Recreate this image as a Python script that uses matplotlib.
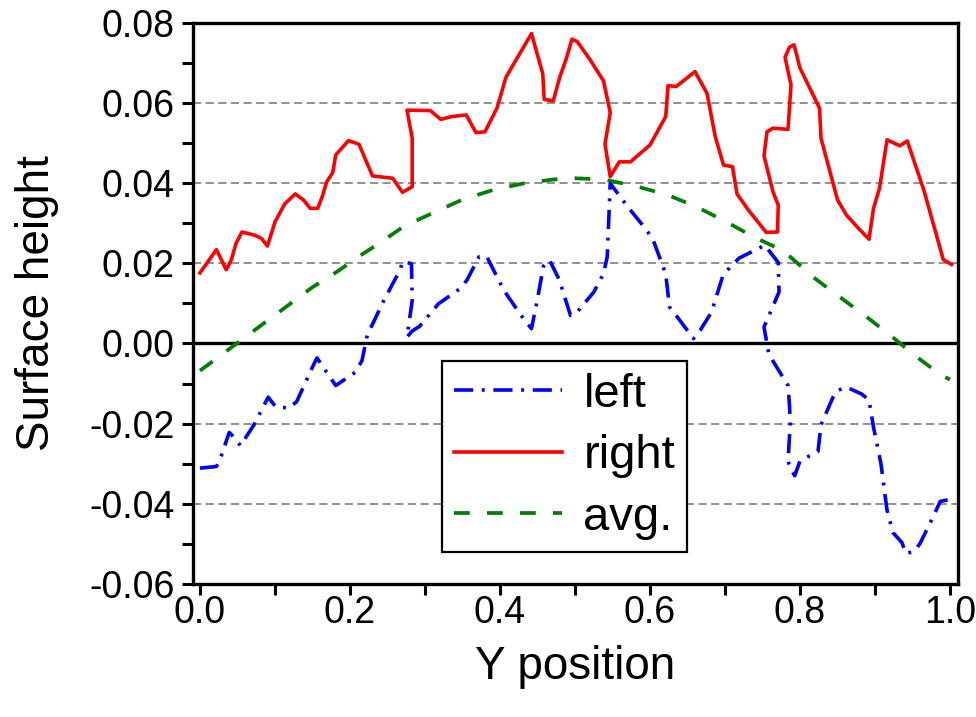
import matplotlib
matplotlib.use("Agg")
import matplotlib.pyplot as plt
from matplotlib.ticker import MultipleLocator, FormatStrFormatter

plt.rcParams["font.family"] = ["Liberation Sans", "DejaVu Sans"]
plt.rcParams["axes.unicode_minus"] = False

# surface profile on the right edge
right_x = [0.000, 0.022, 0.035, 0.042, 0.048, 0.056, 0.073, 0.082, 0.090, 0.100,
           0.113, 0.127, 0.138, 0.147, 0.157, 0.163, 0.169, 0.177, 0.181, 0.198,
           0.212, 0.222, 0.230, 0.257, 0.270, 0.283, 0.283, 0.276, 0.307, 0.321,
           0.336, 0.355, 0.368, 0.380, 0.396, 0.408, 0.422, 0.442, 0.457, 0.459,
           0.471, 0.480, 0.488, 0.496, 0.503, 0.520, 0.538, 0.547, 0.540, 0.547,
           0.559, 0.574, 0.600, 0.621, 0.624, 0.635, 0.660, 0.676, 0.687, 0.698,
           0.710, 0.716, 0.731, 0.755, 0.770, 0.771, 0.764, 0.752, 0.756, 0.764,
           0.784, 0.788, 0.780, 0.786, 0.792, 0.800, 0.826, 0.828, 0.850, 0.862,
           0.878, 0.892, 0.898, 0.906, 0.916, 0.933, 0.943, 0.965, 0.977, 0.991,
           1.002]
right_y = [0.0176, 0.0234, 0.0184, 0.0209, 0.0249, 0.0278, 0.0270, 0.0262, 0.0243, 0.0303,
           0.0348, 0.0373, 0.0358, 0.0337, 0.0337, 0.0366, 0.0403, 0.0426, 0.0470, 0.0506,
           0.0497, 0.0453, 0.0418, 0.0412, 0.0377, 0.0391, 0.0512, 0.0582, 0.0581, 0.0559,
           0.0566, 0.0570, 0.0526, 0.0528, 0.0587, 0.0664, 0.0709, 0.0773, 0.0673, 0.0609,
           0.0605, 0.0666, 0.0708, 0.0759, 0.0753, 0.0708, 0.0655, 0.0576, 0.0497, 0.0416,
           0.0453, 0.0453, 0.0495, 0.0566, 0.0643, 0.0641, 0.0678, 0.0624, 0.0516, 0.0445,
           0.0441, 0.0373, 0.0333, 0.0277, 0.0278, 0.0345, 0.0378, 0.0468, 0.0528, 0.0537,
           0.0534, 0.0645, 0.0714, 0.0739, 0.0745, 0.0687, 0.0587, 0.0512, 0.0358, 0.0320,
           0.0287, 0.0260, 0.0337, 0.0387, 0.0508, 0.0493, 0.0505, 0.0383, 0.0303, 0.0209,
           0.0197]

# surface profile on the left edge
left_x = [0.000, 0.022, 0.028, 0.039, 0.047, 0.054, 0.072, 0.091, 0.101, 0.119,
          0.129, 0.150, 0.156, 0.169, 0.181, 0.207, 0.216, 0.223, 0.244, 0.267,
          0.270, 0.282, 0.283, 0.276, 0.283, 0.293, 0.318, 0.347, 0.356, 0.372,
          0.382, 0.405, 0.424, 0.432, 0.442, 0.449, 0.458, 0.466, 0.479, 0.494,
          0.501, 0.525, 0.538, 0.543, 0.547, 0.572, 0.595, 0.604, 0.616, 0.621,
          0.626, 0.638, 0.658, 0.667, 0.682, 0.697, 0.707, 0.719, 0.753, 0.771,
          0.772, 0.752, 0.758, 0.764, 0.784, 0.786, 0.787, 0.784, 0.787, 0.793,
          0.800, 0.812, 0.824, 0.828, 0.844, 0.849, 0.862, 0.882, 0.892, 0.898,
          0.908, 0.916, 0.924, 0.936, 0.941, 0.952, 0.960, 0.976, 0.987, 1.000]
left_y = [-0.0311, -0.0307, -0.0283, -0.0222, -0.0237, -0.0255, -0.0203, -0.0134, -0.0158, -0.0161,
          -0.0145, -0.0059, -0.0036, -0.0072, -0.0105, -0.0072, -0.0043, 0.0020, 0.0103, 0.0184,
          0.0204, 0.0199, 0.0107, 0.0016, 0.0031, 0.0043, 0.0099, 0.0137, 0.0158, 0.0216,
          0.0218, 0.0133, 0.0081, 0.0060, 0.0037, 0.0101, 0.0193, 0.0208, 0.0159, 0.0070,
          0.0074, 0.0128, 0.0174, 0.0216, 0.0399, 0.0337, 0.0284, 0.0259, 0.0199, 0.0173,
          0.0091, 0.0062, 0.0012, 0.0033, 0.0078, 0.0168, 0.0191, 0.0213, 0.0245, 0.0202,
          0.0128, 0.0041, -0.0022, -0.0044, -0.0105, -0.0155, -0.0201, -0.0293, -0.0311, -0.0330,
          -0.0293, -0.0281, -0.0269, -0.0203, -0.0134, -0.0118, -0.0109, -0.0126, -0.0141, -0.0209,
          -0.0301, -0.0416, -0.0472, -0.0497, -0.0524, -0.0519, -0.0499, -0.0438, -0.0394, -0.0389]

# averaged profile
avg_x = [0.000, 0.047, 0.080, 0.116, 0.149, 0.182, 0.216, 0.240, 0.271, 0.311,
         0.349, 0.391, 0.431, 0.471, 0.500, 0.538, 0.564, 0.584, 0.624, 0.662,
         0.702, 0.738, 0.771, 0.787, 0.820, 0.853, 0.889, 0.922, 0.953, 0.989, 1.000]
avg_y = [-0.0068, -0.0003, 0.0043, 0.0093, 0.0139, 0.0178, 0.0222, 0.0251, 0.0291, 0.0326,
         0.0358, 0.0383, 0.0399, 0.0409, 0.0412, 0.0409, 0.0399, 0.0391, 0.0370, 0.0341,
         0.0303, 0.0266, 0.0237, 0.0216, 0.0162, 0.0116, 0.0066, 0.0018, -0.0030, -0.0080, -0.0090]

fig = plt.figure(figsize=(9.76, 7.17), dpi=100)
ax = fig.add_axes([0.1974, 0.1855, 0.7842, 0.7828])

for yv in [-0.04, -0.02, 0.02, 0.04, 0.06]:
    ax.axhline(yv, color="#888888", lw=1.3, ls=(0, (4.5, 2.5)), zorder=1)
ax.axhline(0, color="black", lw=2.4, zorder=2)

l_avg, = ax.plot(avg_x, avg_y, color="#008000", lw=2.7, zorder=3)
l_avg.set_dashes([4.2, 4.6])
l_right, = ax.plot(right_x, right_y, color="#ff0000", lw=2.6, zorder=4)
l_left, = ax.plot(left_x, left_y, color="#0000ff", lw=2.6, zorder=5)
l_left.set_dashes([5.3, 2.4, 0.8, 2.4])

ax.set_xlim(-0.0097, 1.0107)
ax.set_ylim(-0.06, 0.08)
ax.xaxis.set_major_locator(MultipleLocator(0.2))
ax.xaxis.set_minor_locator(MultipleLocator(0.1))
ax.yaxis.set_major_locator(MultipleLocator(0.02))
ax.yaxis.set_minor_locator(MultipleLocator(0.01))
ax.xaxis.set_major_formatter(FormatStrFormatter("%.1f"))
ax.yaxis.set_major_formatter(FormatStrFormatter("%.2f"))

for s in ax.spines.values():
    s.set_linewidth(2.4)
ax.tick_params(which="both", direction="out", length=8, width=2.2,
               top=False, right=False, labelsize=27)
ax.tick_params(axis="x", pad=0)
ax.tick_params(axis="y", pad=5)

ax.set_xlabel("Y position", fontsize=33, labelpad=10)
ax.set_ylabel("Surface height", fontsize=33, labelpad=22)

leg = ax.legend([l_left, l_right, l_avg], ["left", "right", "avg."],
                loc="upper left", bbox_to_anchor=(0.3254, 0.397),
                borderaxespad=0, fontsize=34, frameon=True, fancybox=False,
                framealpha=1, handlelength=2.3, handletextpad=0.45,
                labelspacing=0.37, borderpad=0.25)
leg.get_frame().set_edgecolor("black")
leg.get_frame().set_linewidth(1.6)

fig.savefig("out.png", dpi=100)
